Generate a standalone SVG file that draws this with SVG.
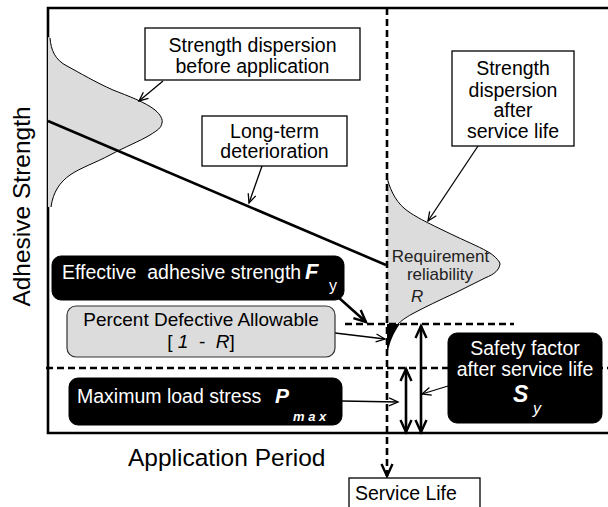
<svg xmlns="http://www.w3.org/2000/svg" width="608" height="507" viewBox="0 0 608 507">
<style>
text{font-family:"Liberation Sans",Arial,sans-serif;}
.lbl{font-size:19.5px;fill:#000;}
.wlbl{font-size:19.5px;fill:#fff;}
.axis{font-size:24.5px;fill:#000;}
.box{fill:#fff;stroke:#000;stroke-width:1.3;}
.blk{fill:#000;stroke:#000;stroke-width:1;}
.gry{fill:#dcdcdc;stroke:#333;stroke-width:1.2;}
.thin{fill:none;stroke:#000;stroke-width:1.3;}
.thick{fill:none;stroke:#000;stroke-width:2.6;}
.dash{fill:none;stroke:#000;stroke-width:2.6;stroke-dasharray:7 4;}
</style>
<defs>
<marker id="ah" markerUnits="userSpaceOnUse" viewBox="-12 -7 14 14" markerWidth="14" markerHeight="14" refX="0" refY="0" orient="auto" overflow="visible">
<path d="M-9,-4 L0,0 L-9,4" fill="none" stroke="#000" stroke-width="1.3"/>
</marker>
<marker id="ahT" markerUnits="userSpaceOnUse" viewBox="-14 -8 16 16" markerWidth="16" markerHeight="16" refX="0" refY="0" orient="auto-start-reverse" overflow="visible">
<path d="M-12,-5.5 L0,0 L-12,5.5" fill="none" stroke="#000" stroke-width="2.4"/>
</marker>
</defs>

<g id="frame">
<polyline points="608,8 48,8 48,433 608,433" fill="none" stroke="#000" stroke-width="2.6"/>
</g>

<g id="axis-labels">
<text class="axis" x="128" y="466">Application Period</text>
<text class="axis" transform="translate(30,206.5) rotate(-90)" text-anchor="middle">Adhesive Strength</text>
</g>

<g id="dist-before">
<path d="M48,37 L50,38 C51,50 55,60 67,66 C80,73 95,82 113,90 C128,96 145,102 155,110 C161,115 163,120 162,123 C161,128 158,130 150,135 C140,141 125,147 110,155 C95,163 80,168 70,175 C60,182 53,192 51,207 L48,207 Z" fill="#dcdcdc" stroke="none"/>
<path d="M50,38 C51,50 55,60 67,66 C80,73 95,82 113,90 C128,96 145,102 155,110 C161,115 163,120 162,123 C161,128 158,130 150,135 C140,141 125,147 110,155 C95,163 80,168 70,175 C60,182 53,192 51,207" fill="none" stroke="#000" stroke-width="1"/>
</g>

<g id="dist-after">
<path d="M387,177 C389,186 394,200 405,209 C415,217 430,224 455,236 C470,243 482,248 490,253 C496,257 500,262 500,264 C499,270 495,274 485,278 C475,283 465,288 455,293 C440,300 425,307 412,314 C405,318 401,321 398,324 L387,324 Z" fill="#dcdcdc" stroke="none"/>
<path d="M387,177 C389,186 394,200 405,209 C415,217 430,224 455,236 C470,243 482,248 490,253 C496,257 500,262 500,264 C499,270 495,274 485,278 C475,283 465,288 455,293 C440,300 425,307 412,314 C405,318 401,321 398,324" fill="none" stroke="#000" stroke-width="1"/>
<path d="M387,324 L400,324 C394,332 389,342 387,357 Z" fill="#000"/>
<text x="440.5" y="262" text-anchor="middle" font-size="17" fill="#222">Requirement</text>
<text x="440" y="280" text-anchor="middle" font-size="17" fill="#222">reliability</text>
<text x="411" y="302" font-size="17" font-style="italic" fill="#222">R</text>
</g>

<g id="deterioration-line">
<line x1="48" y1="121" x2="386" y2="265" stroke="#000" stroke-width="2.6"/>
</g>

<g id="connectors">
<line class="dash" x1="387" y1="8" x2="387" y2="476" marker-end="url(#ahT)"/>
<line class="dash" x1="345" y1="324" x2="514" y2="324"/>
<line class="dash" x1="46" y1="368" x2="608" y2="368"/>
<line class="thick" x1="406" y1="369" x2="406" y2="432" marker-start="url(#ahT)" marker-end="url(#ahT)"/>
<line class="thick" x1="421" y1="326" x2="421" y2="432" marker-start="url(#ahT)" marker-end="url(#ahT)"/>
<line class="thin" x1="163" y1="81" x2="139" y2="101" marker-end="url(#ah)"/>
<line class="thin" x1="262" y1="166" x2="249" y2="203" marker-end="url(#ah)"/>
<line class="thin" x1="478" y1="146" x2="428" y2="221" marker-end="url(#ah)"/>
<line class="thick" x1="338" y1="297" x2="366" y2="322" marker-end="url(#ahT)"/>
<line class="thin" x1="335" y1="333" x2="385" y2="339" marker-end="url(#ah)"/>
<line class="thin" x1="342" y1="401" x2="398" y2="402" marker-end="url(#ah)"/>
<line class="thin" x1="448" y1="386" x2="422" y2="394" marker-end="url(#ah)"/>
</g>

<g id="box-before">
<rect class="box" x="145" y="28" width="215" height="52"/>
<text class="lbl" x="252.5" y="51.5" text-anchor="middle">Strength dispersion</text>
<text class="lbl" x="252.5" y="72.5" text-anchor="middle">before application</text>
</g>

<g id="box-deterioration">
<rect class="box" x="202" y="116" width="145" height="50"/>
<text class="lbl" x="274.5" y="138" text-anchor="middle">Long-term</text>
<text class="lbl" x="274.5" y="158" text-anchor="middle">deterioration</text>
</g>

<g id="box-after">
<rect class="box" x="452" y="51" width="122" height="95"/>
<text class="lbl" x="513" y="75" text-anchor="middle">Strength</text>
<text class="lbl" x="513" y="96.5" text-anchor="middle">dispersion</text>
<text class="lbl" x="513" y="117" text-anchor="middle">after</text>
<text class="lbl" x="513" y="137.5" text-anchor="middle">service life</text>
</g>

<g id="box-effective">
<rect class="blk" x="52" y="256" width="292" height="44" rx="9"/>
<text class="wlbl" x="62" y="279" style="white-space:pre">Effective  adhesive strength</text>
<text x="305" y="279" font-size="22" font-weight="bold" font-style="italic" fill="#fff">F</text>
<text x="329" y="291" font-size="16" fill="#fff">y</text>
</g>

<g id="box-percent">
<rect class="gry" x="67" y="306" width="268" height="51" rx="9"/>
<text x="201" y="326" text-anchor="middle" font-size="19" fill="#000">Percent Defective Allowable</text>
<text x="201" y="348" text-anchor="middle" font-size="19" fill="#000" style="white-space:pre">[ <tspan font-style="italic">1</tspan>  -  <tspan font-style="italic">R</tspan>]</text>
</g>

<g id="box-maxload">
<rect class="blk" x="69" y="378" width="273" height="47" rx="9"/>
<text class="wlbl" x="77" y="403">Maximum load stress</text>
<text x="275" y="403" font-size="21" font-weight="bold" font-style="italic" fill="#fff">P</text>
<text x="293" y="421" font-size="13" font-weight="bold" font-style="italic" fill="#fff" style="white-space:pre">m a x</text>
</g>

<g id="box-safety">
<rect class="blk" x="448" y="333" width="154" height="90" rx="9"/>
<text class="wlbl" x="525" y="355" text-anchor="middle">Safety factor</text>
<text class="wlbl" x="525" y="376" text-anchor="middle">after service life</text>
<text x="513" y="402" font-size="23" font-weight="bold" font-style="italic" fill="#fff">S</text>
<text x="533" y="414" font-size="16" font-style="italic" fill="#fff">y</text>
</g>

<g id="box-service-life">
<rect class="box" x="349" y="478" width="131" height="32"/>
<text class="lbl" x="355" y="500">Service Life</text>
</g>
</svg>
